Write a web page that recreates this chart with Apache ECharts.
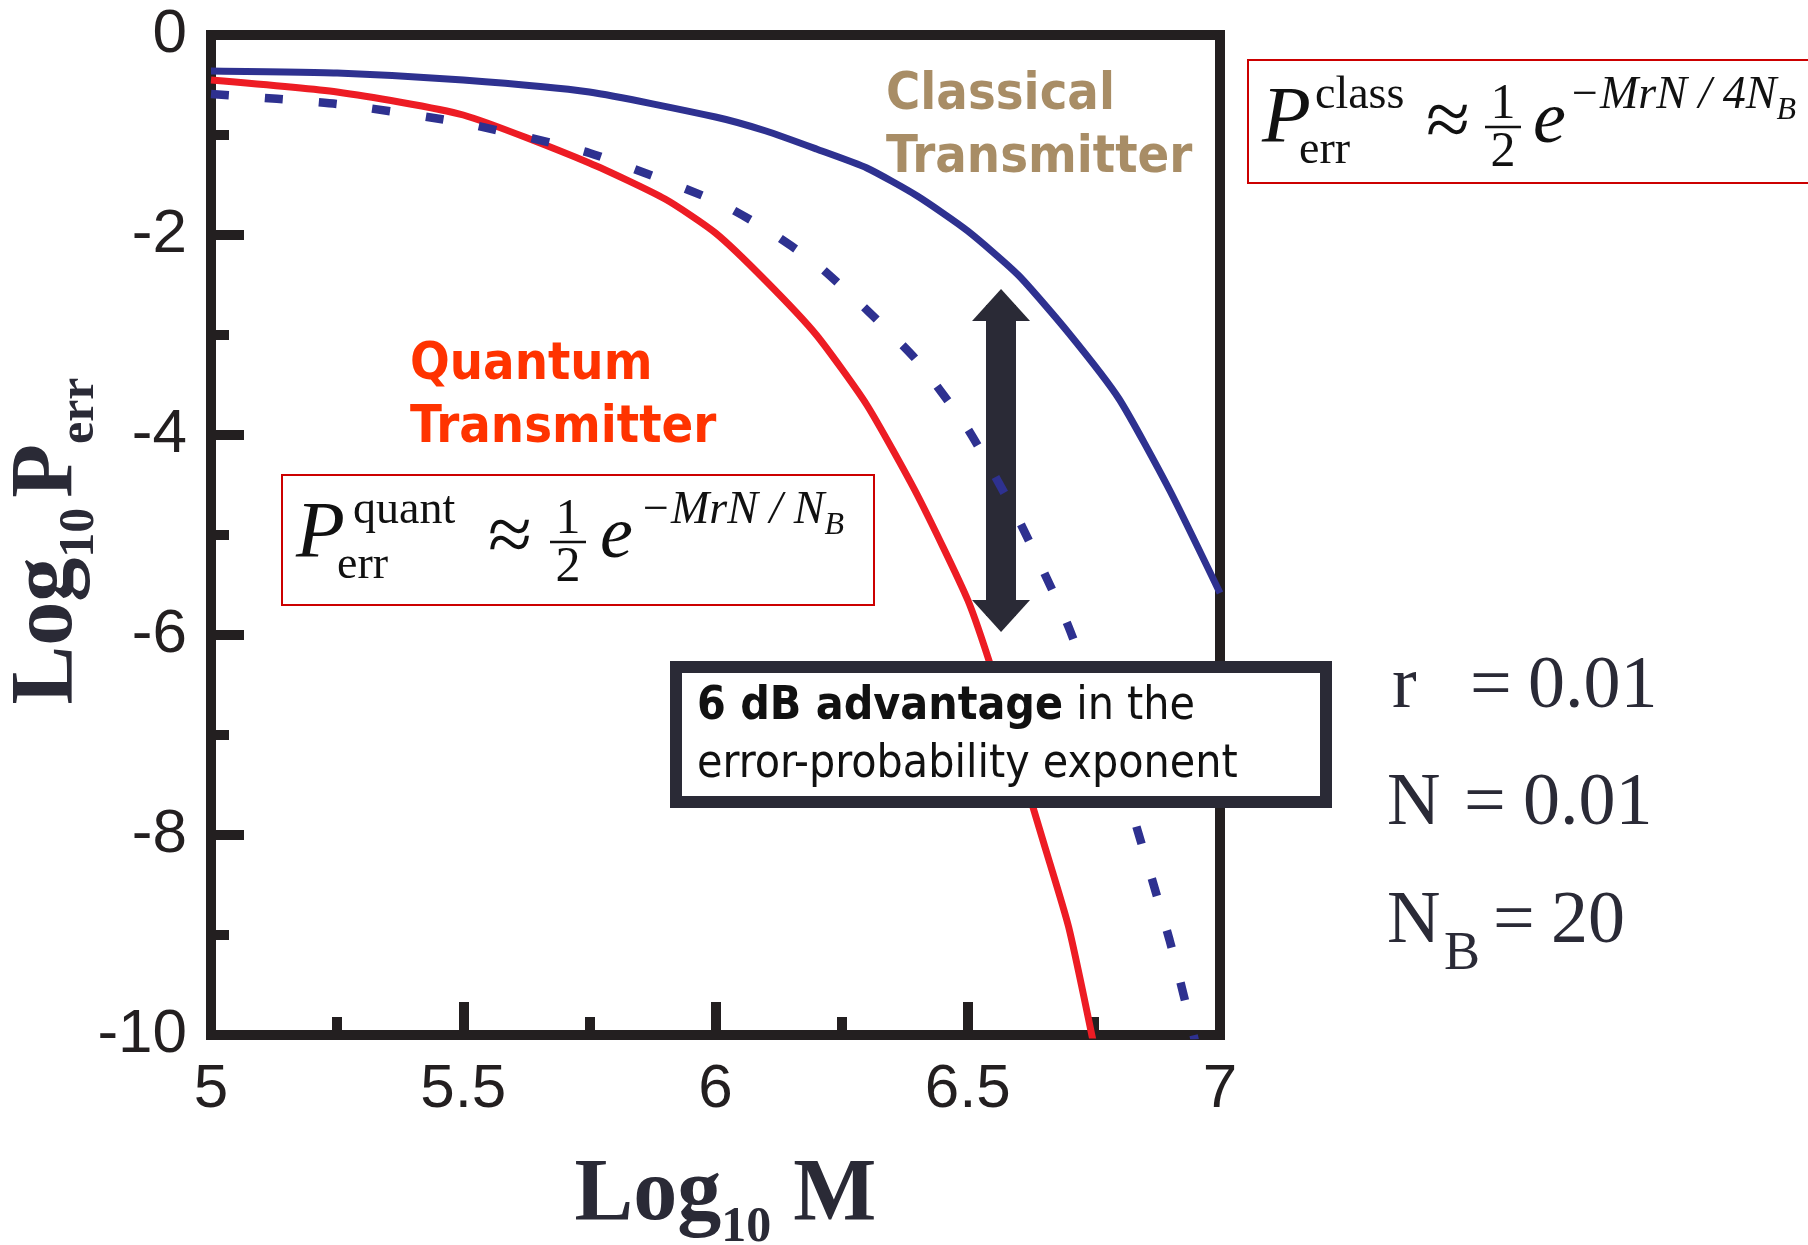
<!DOCTYPE html>
<html>
<head>
<meta charset="utf-8">
<script src="https://cdn.jsdelivr.net/npm/echarts@6/dist/echarts.min.js"></script>
<style>
  html, body { margin: 0; padding: 0; background: #fff; }
  #main { width: 1808px; height: 1245px; }
</style>
</head>
<body>
<div id="main"></div>
<script>
// values: x = log10 M, y = log10 Perr
var classX = [5.0, 5.25, 5.5, 5.75, 6.0, 6.1, 6.2, 6.3, 6.4, 6.5, 6.6, 6.7, 6.8, 6.9, 7.0];
var classY = [-0.36, -0.38, -0.45, -0.57, -0.82, -0.96, -1.14, -1.33, -1.61, -1.96, -2.40, -2.98, -3.64, -4.55, -5.58];

var dashX = [5.0, 5.25, 5.5, 5.75, 6.0, 6.1, 6.2, 6.3, 6.4, 6.5, 6.6, 6.7, 6.8, 6.9, 6.95];
var dashY = [-0.59, -0.69, -0.88, -1.18, -1.66, -1.94, -2.29, -2.75, -3.26, -3.94, -4.84, -5.92, -7.35, -9.05, -10.05];

var quantX = [5.0, 5.25, 5.5, 5.75, 5.9, 6.0, 6.1, 6.2, 6.3, 6.4, 6.5, 6.55, 6.6, 6.65, 6.7, 6.75];
var quantY = [-0.45, -0.57, -0.80, -1.28, -1.64, -1.98, -2.46, -3.00, -3.70, -4.60, -5.65, -6.38, -7.23, -8.07, -8.92, -10.1];

// double arrow: x position and the two tips
var arrowX = 6.566;
var arrowTop = -2.54;
var arrowBottom = -5.97;

var params = [['r', '0.01'], ['N', '0.01'], ['N', '20']];

function zip(xs, ys) {
    var out = [];
    for (var i = 0; i < xs.length; i++) out.push([xs[i], ys[i]]);
    return out;
}

var ink = '#231f20';
var navy = '#2a2a36';
var serif = 'Liberation Serif';
var tahoma = '"DejaVu Sans Condensed", "DejaVu Sans", sans-serif';

// text helper, positioned by its baseline
function txt(str, x, baseline, size, o) {
    o = o || {};
    var al = o.align || 'left';
    return {
        type: 'text', z: 110, x: x, y: baseline - 0.34 * size, silent: true,
        style: {
            text: str, fill: o.color || '#111',
            fontSize: size, fontFamily: o.family || serif,
            fontStyle: o.italic ? 'italic' : 'normal',
            fontWeight: o.bold ? 'bold' : 'normal',
            align: al, textAlign: al,
            verticalAlign: 'middle', textVerticalAlign: 'middle',
            rich: o.rich
        }
    };
}

function box(x, y, w, h, stroke, lw) {
    return {
        type: 'rect', z: 100, silent: true,
        shape: { x: x, y: y, width: w, height: h },
        style: { fill: '#fff', stroke: stroke, lineWidth: lw }
    };
}

function bar(x1, x2, y) {
    return {
        type: 'line', z: 110, silent: true,
        shape: { x1: x1, y1: y, x2: x2, y2: y },
        style: { stroke: '#111', lineWidth: 2.5 }
    };
}

var expRich = {
    e: { fontFamily: serif, fontStyle: 'italic', fontSize: 46, color: '#111' },
    b: { fontFamily: serif, fontStyle: 'italic', fontSize: 32, color: '#111', padding: [29, 0, 0, 0] }
};

// formula: P^sup_err ≈ 1/2 e^(...)
function formula(bx, by, bw, bh, sup, supX, errX, approxX, fracX, eX, expX, expStr) {
    return [
        box(bx, by, bw, bh, '#cc0000', 2),
        txt('P', bx + 14, by + 88, 80, { italic: true }),
        txt(sup, supX, by + 52, 46),
        txt('err', errX, by + 107, 46),
        txt('\u2248', approxX, by + 92, 80, { align: 'center' }),
        txt('1', fracX, by + 62, 50, { align: 'center' }),
        bar(fracX - 18, fracX + 18, by + 67),
        txt('2', fracX, by + 110, 50, { align: 'center' }),
        txt('e', eX, by + 88, 74, { italic: true }),
        txt('{e|' + expStr + '}{b|B}', expX, by + 52, 46, { rich: expRich })
    ];
}

var graphics = [];
graphics = graphics.concat(formula(1248, 60, 620, 123, 'class', 1315, 1299, 1448, 1503, 1533, 1569, '\u2212MrN / 4N'));
graphics = graphics.concat(formula(282, 475, 592, 130, 'quant', 353, 337, 510, 568, 600, 640, '\u2212MrN / N'));

// curve labels
graphics.push(txt('Classical', 886, 113, 52, { bold: true, family: tahoma, color: '#a88d66' }));
graphics.push(txt('Transmitter', 886, 176, 52, { bold: true, family: tahoma, color: '#a88d66' }));
graphics.push(txt('Quantum', 410, 383, 52, { bold: true, family: tahoma, color: '#ff3300' }));
graphics.push(txt('Transmitter', 410, 446, 52, { bold: true, family: tahoma, color: '#ff3300' }));

// 6 dB note
graphics.push(box(676, 667, 650, 135, navy, 12));
var noteRich = {
    b: { fontFamily: tahoma, fontWeight: 'bold', fontSize: 46, color: navy },
    r: { fontFamily: tahoma, fontSize: 46, color: navy }
};
graphics.push(txt('{b|6 dB advantage}{r| in the}', 697, 723, 46, { rich: noteRich }));
graphics.push(txt('{r|error-probability exponent}', 697, 781, 46, { rich: noteRich }));

// parameters
graphics.push(txt(params[0][0], 1392, 713, 74, { color: navy }));
graphics.push(txt('=', 1470, 713, 74, { color: navy }));
graphics.push(txt(params[0][1], 1528, 713, 74, { color: navy }));
graphics.push(txt(params[1][0], 1387, 830, 74, { color: navy }));
graphics.push(txt('=', 1464, 830, 74, { color: navy }));
graphics.push(txt(params[1][1], 1523, 830, 74, { color: navy }));
graphics.push(txt(params[2][0], 1387, 948, 74, { color: navy }));
graphics.push(txt('B', 1444, 973, 54, { color: navy }));
graphics.push(txt('=', 1493, 948, 74, { color: navy }));
graphics.push(txt(params[2][1], 1551, 948, 74, { color: navy }));

var nameRich = {
    m: { fontFamily: serif, fontWeight: 'bold', fontSize: 88, color: navy },
    p: { fontFamily: serif, fontWeight: 'bold', fontSize: 88, color: navy, padding: [0, 0, 0, 10] },
    s: { fontFamily: serif, fontWeight: 'bold', fontSize: 50, color: navy, padding: [64, 0, 0, 0] }
};

var headUnits = 0.16;

var option = {
    animation: false,
    backgroundColor: '#fff',
    grid: {
        left: 211, right: 588, top: 35, bottom: 210,
        show: true, borderColor: ink, borderWidth: 10,
        containLabel: false, outerBoundsMode: 'none'
    },
    xAxis: {
        type: 'value', min: 5, max: 7, interval: 0.5,
        name: '{m|Log}{s|10}{m| M}',
        nameLocation: 'middle', nameGap: 104, nameMoveOverlap: false,
        nameTextStyle: { rich: nameRich, padding: [0, 0, 0, 20] },
        axisLine: { show: true, onZero: false, lineStyle: { color: ink, width: 10 } },
        axisTick: { show: true, inside: true, length: 33, lineStyle: { color: ink, width: 10 } },
        minorTick: { show: true, splitNumber: 2, length: 18, lineStyle: { color: ink, width: 10 } },
        axisLabel: { fontSize: 62, fontFamily: 'Liberation Sans', color: ink, margin: 24 },
        splitLine: { show: false }
    },
    yAxis: {
        type: 'value', min: -10, max: 0, interval: 2,
        name: '{m|Log}{s|10}{p|P}{s|err}',
        nameLocation: 'middle', nameGap: 106, nameRotate: 90, nameMoveOverlap: false,
        nameTextStyle: { rich: nameRich, padding: [0, 12, 0, 0] },
        axisLine: { show: true, onZero: false, lineStyle: { color: ink, width: 10 } },
        axisTick: { show: true, inside: true, length: 33, lineStyle: { color: ink, width: 10 } },
        minorTick: { show: true, splitNumber: 2, length: 18, lineStyle: { color: ink, width: 10 } },
        axisLabel: { fontSize: 62, fontFamily: 'Liberation Sans', color: ink, margin: 24 },
        splitLine: { show: false }
    },
    series: [
        {
            name: 'Classical', type: 'line', data: zip(classX, classY),
            showSymbol: false, symbol: 'none', smooth: 0.2, z: 3,
            lineStyle: { color: '#2e3190', width: 7 }
        },
        {
            name: 'Quantum', type: 'line', data: zip(quantX, quantY),
            showSymbol: false, symbol: 'none', smooth: 0.2, z: 4,
            lineStyle: { color: '#ed1c24', width: 7 }
        },
        {
            name: 'Classical (dashed)', type: 'line', data: zip(dashX, dashY),
            showSymbol: false, symbol: 'none', smooth: 0.2, z: 5,
            lineStyle: { color: '#2e3190', width: 8.5, type: [18, 36] }
        },
        {
            name: 'advantage', type: 'line', data: [], z: 6, silent: true,
            markLine: {
                silent: true, animation: false,
                symbol: ['triangle', 'triangle'], symbolSize: [58, 32],
                label: { show: false },
                emphasis: { disabled: true },
                lineStyle: { color: navy, width: 30, type: 'solid', opacity: 1 },
                data: [[
                    { coord: [arrowX, arrowTop - headUnits] },
                    { coord: [arrowX, arrowBottom + headUnits] }
                ]]
            }
        }
    ],
    graphic: graphics
};

var chart = echarts.init(document.getElementById('main'));
chart.setOption(option);
</script>
</body>
</html>
